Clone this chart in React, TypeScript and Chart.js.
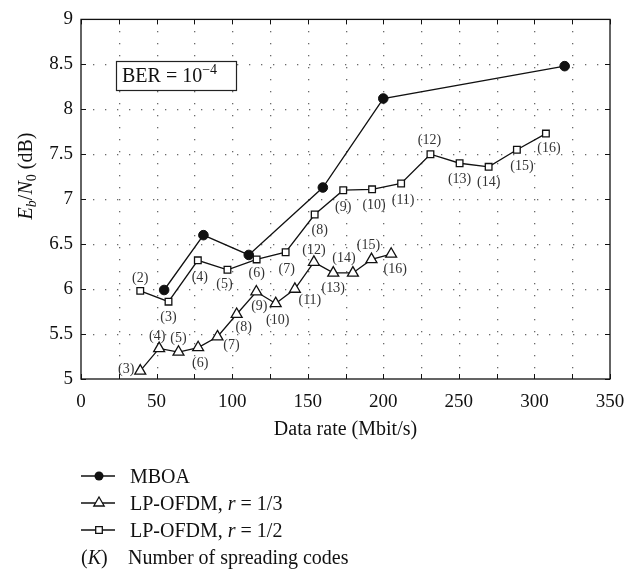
import React, { useEffect, useRef } from "react";
import { Chart, registerables } from "chart.js";

Chart.register(...registerables);

// ---------- Data ----------
const mboaRate = [55, 81, 111, 160, 200, 320];
const mboaEbN0 = [5.99, 6.6, 6.38, 7.13, 8.12, 8.48];

const r13Codes = [3, 4, 5, 6, 7, 8, 9, 10, 11, 12, 13, 14, 15, 16];
const r13Rate = [39.2, 51.7, 64.5, 77.5, 90.3, 103, 116, 128.8, 141.5, 154.1, 166.9, 179.9, 192.2, 205.2];
const r13EbN0 = [5.09, 5.34, 5.3, 5.35, 5.47, 5.72, 5.97, 5.84, 6.0, 6.3, 6.18, 6.18, 6.33, 6.39];

const r12Codes = [2, 3, 4, 5, 6, 7, 8, 9, 10, 11, 12, 13, 14, 15, 16];
const r12Rate = [39.2, 57.9, 77.3, 96.9, 116.2, 135.4, 154.6, 173.5, 192.6, 211.8, 231.2, 250.5, 269.7, 288.4, 307.6];
const r12EbN0 = [5.98, 5.86, 6.32, 6.215, 6.33, 6.41, 6.83, 7.1, 7.11, 7.175, 7.5, 7.4, 7.36, 7.55, 7.73];

const xTickLabels = ["0", "50", "100", "150", "200", "250", "300", "350"];
const yTickLabels = ["5", "5.5", "6", "6.5", "7", "7.5", "8", "8.5", "9"];

const seriesNames = ["MBOA", "LP-OFDM, ", "LP-OFDM, "];

// label offsets (pixels) relative to each marker
const r13LabelOffsets = [
  [-14, -2], [-2, -12], [0, -14], [2, 16], [14, 9], [7, 13], [3, 15],
  [2, 17], [15, 11], [0, -12], [0, 15], [-9, -15], [-3, -14], [4, 15],
];
const r12LabelOffsets = [
  [0, -13], [0, 16], [2, 17], [-3, 15], [0, 14], [1, 17], [5, 16], [0, 17],
  [2, 16], [2, 17], [-1, -14], [0, 16], [0, 15], [5, 17], [3, 15],
];

const FONT = "'Liberation Serif', 'DejaVu Serif', serif";

function drawSegments(ctx: CanvasRenderingContext2D, segs: any[], x: number, y: number, align: string) {
  let total = 0;
  for (const s of segs) {
    ctx.font = s.font;
    total += ctx.measureText(s.t).width;
  }
  let cx = align === "center" ? x - total / 2 : x;
  ctx.textAlign = "left";
  ctx.textBaseline = "alphabetic";
  for (const s of segs) {
    ctx.font = s.font;
    ctx.fillText(s.t, cx, y + (s.dy || 0));
    cx += ctx.measureText(s.t).width;
  }
}

const gridPlugin = {
  id: "dotgrid",
  beforeDatasetsDraw(chart: any) {
    const ctx: CanvasRenderingContext2D = chart.ctx;
    const area = chart.chartArea;
    const xs = chart.scales.x;
    const ys = chart.scales.y;
    const gap = 12;
    ctx.save();
    ctx.fillStyle = "#6a6a6a";
    xs.ticks.forEach((t: any) => {
      const px = Math.round(xs.getPixelForValue(t.value));
      if (px <= area.left + 1 || px >= area.right - 1) return;
      for (let y = area.bottom - gap; y > area.top + 2; y -= gap) {
        ctx.fillRect(px, Math.round(y), 1.3, 1.3);
      }
    });
    ys.ticks.forEach((t: any) => {
      const py = Math.round(ys.getPixelForValue(t.value));
      if (py <= area.top + 1 || py >= area.bottom - 1) return;
      for (let x = area.left + gap; x < area.right - 2; x += gap) {
        ctx.fillRect(Math.round(x), py, 1.3, 1.3);
      }
    });
    ctx.restore();
  },
};

const decorPlugin = {
  id: "decor",
  afterDatasetsDraw(chart: any) {
    const ctx: CanvasRenderingContext2D = chart.ctx;
    const area = chart.chartArea;
    const xs = chart.scales.x;
    const ys = chart.scales.y;
    ctx.save();
    // frame
    ctx.strokeStyle = "#111";
    ctx.lineWidth = 1.3;
    ctx.setLineDash([]);
    ctx.strokeRect(area.left, area.top, area.right - area.left, area.bottom - area.top);
    // inward ticks
    ctx.lineWidth = 1;
    const tl = 5;
    ctx.beginPath();
    xs.ticks.forEach((t: any) => {
      const px = Math.round(xs.getPixelForValue(t.value)) + 0.5;
      ctx.moveTo(px, area.bottom);
      ctx.lineTo(px, area.bottom - tl);
      ctx.moveTo(px, area.top);
      ctx.lineTo(px, area.top + tl);
    });
    ys.ticks.forEach((t: any) => {
      const py = Math.round(ys.getPixelForValue(t.value)) + 0.5;
      ctx.moveTo(area.left, py);
      ctx.lineTo(area.left + tl, py);
      ctx.moveTo(area.right, py);
      ctx.lineTo(area.right - tl, py);
    });
    ctx.stroke();

    // data labels
    ctx.fillStyle = "#333";
    ctx.font = "14px " + FONT;
    ctx.textAlign = "center";
    ctx.textBaseline = "middle";
    const m13 = chart.getDatasetMeta(1);
    m13.data.forEach((el: any, i: number) => {
      const o = r13LabelOffsets[i];
      ctx.fillText("(" + r13Codes[i] + ")", el.x + o[0], el.y + o[1]);
    });
    const m12 = chart.getDatasetMeta(2);
    m12.data.forEach((el: any, i: number) => {
      const o = r12LabelOffsets[i];
      ctx.fillText("(" + r12Codes[i] + ")", el.x + o[0], el.y + o[1]);
    });

    // BER box
    ctx.fillStyle = "#fff";
    ctx.fillRect(117, 61, 120, 29);
    ctx.strokeStyle = "#222";
    ctx.lineWidth = 1.2;
    ctx.strokeRect(116.5, 61.5, 120, 29);
    ctx.fillStyle = "#111";
    drawSegments(
      ctx,
      [
        { t: "BER = 10", font: "20px " + FONT },
        { t: "\u22124", font: "14px " + FONT, dy: -8 },
      ],
      122,
      82,
      "left"
    );

    // y title
    ctx.save();
    ctx.translate(25, 176);
    ctx.rotate(-Math.PI / 2);
    drawSegments(
      ctx,
      [
        { t: "E", font: "italic 20px " + FONT },
        { t: "b", font: "italic 14px " + FONT, dy: 4 },
        { t: "/", font: "20px " + FONT },
        { t: "N", font: "italic 20px " + FONT },
        { t: "0", font: "14px " + FONT, dy: 4 },
        { t: " (dB)", font: "20px " + FONT },
      ],
      0,
      7,
      "center"
    );
    ctx.restore();

    // x title
    ctx.fillStyle = "#111";
    ctx.font = "20px " + FONT;
    ctx.textAlign = "center";
    ctx.textBaseline = "middle";
    ctx.fillText("Data rate (Mbit/s)", (area.left + area.right) / 2, 430);

    // legend
    const lx0 = 81, lx1 = 115, mx = 99, tx = 130;
    const rows = [476, 503, 530];
    ctx.strokeStyle = "#111";
    ctx.lineWidth = 1.3;
    rows.forEach((ry) => {
      ctx.beginPath();
      ctx.moveTo(lx0, ry);
      ctx.lineTo(lx1, ry);
      ctx.stroke();
    });
    // circle
    ctx.fillStyle = "#111";
    ctx.beginPath();
    ctx.arc(mx, rows[0], 4.5, 0, Math.PI * 2);
    ctx.fill();
    // triangle
    ctx.fillStyle = "#fff";
    ctx.beginPath();
    ctx.moveTo(mx, rows[1] - 6);
    ctx.lineTo(mx + 5.2, rows[1] + 3);
    ctx.lineTo(mx - 5.2, rows[1] + 3);
    ctx.closePath();
    ctx.fill();
    ctx.stroke();
    // square
    ctx.beginPath();
    ctx.rect(mx - 3.3, rows[2] - 3.3, 6.6, 6.6);
    ctx.fill();
    ctx.stroke();

    ctx.fillStyle = "#111";
    drawSegments(ctx, [{ t: seriesNames[0], font: "20px " + FONT }], tx, rows[0] + 7, "left");
    drawSegments(
      ctx,
      [
        { t: seriesNames[1], font: "20px " + FONT },
        { t: "r", font: "italic 20px " + FONT },
        { t: " = 1/3", font: "20px " + FONT },
      ],
      tx,
      rows[1] + 7,
      "left"
    );
    drawSegments(
      ctx,
      [
        { t: seriesNames[2], font: "20px " + FONT },
        { t: "r", font: "italic 20px " + FONT },
        { t: " = 1/2", font: "20px " + FONT },
      ],
      tx,
      rows[2] + 7,
      "left"
    );
    drawSegments(
      ctx,
      [
        { t: "(", font: "20px " + FONT },
        { t: "K", font: "italic 20px " + FONT },
        { t: ")", font: "20px " + FONT },
      ],
      81,
      564,
      "left"
    );
    drawSegments(ctx, [{ t: "Number of spreading codes", font: "20px " + FONT }], 128, 564, "left");

    ctx.restore();
  },
};

export default function App() {
  const ref = useRef<HTMLCanvasElement | null>(null);

  useEffect(() => {
    if (!ref.current) return;
    const toPts = (xs: number[], ys: number[]) => xs.map((x, i) => ({ x, y: ys[i] }));
    const chart = new Chart(ref.current, {
      type: "line",
      data: {
        datasets: [
          {
            label: seriesNames[0],
            data: toPts(mboaRate, mboaEbN0),
            borderColor: "#111",
            backgroundColor: "#111",
            borderWidth: 1.3,
            pointStyle: "circle",
            pointRadius: 4.8,
            pointBorderWidth: 1,
            pointBackgroundColor: "#111",
            tension: 0,
          },
          {
            label: seriesNames[1] + "r = 1/3",
            data: toPts(r13Rate, r13EbN0),
            borderColor: "#111",
            backgroundColor: "#fff",
            borderWidth: 1.3,
            pointStyle: "triangle",
            pointRadius: 6.3,
            pointBorderWidth: 1.3,
            pointBackgroundColor: "#fff",
            tension: 0,
          },
          {
            label: seriesNames[2] + "r = 1/2",
            data: toPts(r12Rate, r12EbN0),
            borderColor: "#111",
            backgroundColor: "#fff",
            borderWidth: 1.3,
            pointStyle: "rect",
            pointRadius: 4.7,
            pointBorderWidth: 1.3,
            pointBackgroundColor: "#fff",
            tension: 0,
          },
        ],
      },
      options: {
        animation: false,
        responsive: false,
        devicePixelRatio: 1,
        layout: { padding: { top: 7, right: 33, bottom: 0, left: 0 } },
        plugins: {
          legend: { display: false },
          tooltip: { enabled: false },
        },
        scales: {
          x: {
            type: "linear",
            min: 0,
            max: 350,
            afterFit: (s: any) => {
              s.height = 194;
            },
            ticks: {
              stepSize: 25,
              padding: 12,
              color: "#111",
              font: { family: FONT, size: 19 },
              maxRotation: 0,
              autoSkip: false,
              callback: (v: any) => {
                const i = xTickLabels.indexOf(String(v));
                return i >= 0 ? xTickLabels[i] : "";
              },
            },
            grid: { display: false, drawTicks: false },
            border: { display: false },
          },
          y: {
            type: "linear",
            min: 5,
            max: 9,
            afterFit: (s: any) => {
              s.width = 81;
            },
            ticks: {
              stepSize: 0.5,
              padding: 8,
              color: "#111",
              font: { family: FONT, size: 19 },
              autoSkip: false,
              callback: (v: any) => {
                const i = Math.round((Number(v) - 5) * 2);
                return yTickLabels[i] ?? "";
              },
            },
            grid: { display: false, drawTicks: false },
            border: { display: false },
          },
        },
      },
      plugins: [gridPlugin, decorPlugin],
    });
    return () => chart.destroy();
  }, []);

  return (
    <div style={{ position: "absolute", left: 0, top: 0, width: 643, height: 573, background: "#fff" }}>
      <canvas ref={ref} width={643} height={573} style={{ width: 643, height: 573, display: "block" }} />
    </div>
  );
}
